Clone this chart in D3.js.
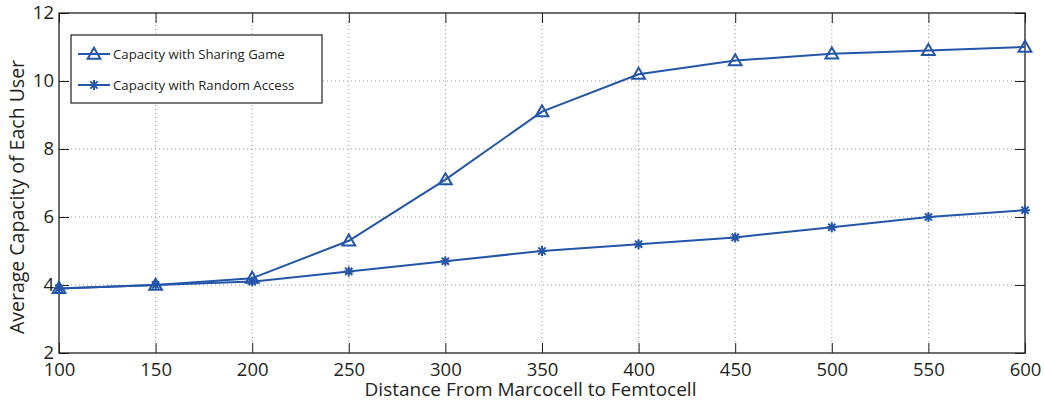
<!DOCTYPE html>
<html><head><meta charset="utf-8">
<script src="https://cdn.jsdelivr.net/npm/d3@7"></script>
<style>
body{margin:0;background:#fff;}
svg text{font-family:"Open Sans","Noto Sans",sans-serif;fill:#231f20;}
</style></head>
<body><svg id="c" width="1044" height="403"></svg>
<script>
const distances = [100,150,200,250,300,350,400,450,500,550,600];
const sharingGame = [3.9,4.0,4.2,5.3,7.1,9.1,10.2,10.6,10.8,10.9,11.0];
const randomAccess = [3.9,4.0,4.1,4.4,4.7,5.0,5.2,5.4,5.7,6.0,6.2];
const xTicks = [100,150,200,250,300,350,400,450,500,550,600];
const yTicks = [2,4,6,8,10,12];
const seriesNames = ["Capacity with Sharing Game","Capacity with Random Access"];

const svg = d3.select("#c");
const L=59,R=1025,T=13,B=353;
const x = d3.scaleLinear().domain([100,600]).range([L,R]);
const y = d3.scaleLinear().domain([2,12]).range([B,T]);
const blue="#2356a8", axc="#231f20";

const g = svg.append("g");
// grid
g.selectAll(".gx").data(xTicks.slice(1,-1)).join("line")
 .attr("x1",d=>x(d)).attr("x2",d=>x(d)).attr("y1",T).attr("y2",B)
 .attr("stroke","#9a9a9a").attr("stroke-width",1).attr("stroke-dasharray","1,3");
g.selectAll(".gy").data(yTicks.slice(1,-1)).join("line")
 .attr("x1",L).attr("x2",R).attr("y1",d=>y(d)).attr("y2",d=>y(d))
 .attr("stroke","#9a9a9a").attr("stroke-width",1).attr("stroke-dasharray","1,3");

// axes
const ax = (axis, tr) => g.append("g").attr("transform",tr).call(axis)
  .call(s=>s.select(".domain").remove())
  .call(s=>s.selectAll("line").attr("stroke",axc));
const xb = ax(d3.axisBottom(x).tickValues(xTicks).tickSize(-10).tickPadding(10), `translate(0,${B})`);
xb.selectAll("text").attr("font-size",18.5).attr("fill",axc).style("font-family",'"Open Sans",sans-serif');
const xt = ax(d3.axisTop(x).tickValues(xTicks).tickSize(-10).tickFormat(""), `translate(0,${T})`);
const yl = ax(d3.axisLeft(y).tickValues(yTicks).tickSize(-10).tickPadding(5), `translate(${L},0)`);
yl.selectAll("text").attr("font-size",18.5).attr("fill",axc);
const yr = ax(d3.axisRight(y).tickValues(yTicks).tickSize(-10).tickFormat(""), `translate(${R},0)`);
g.append("rect").attr("x",L).attr("y",T).attr("width",R-L).attr("height",B-T)
 .attr("fill","none").attr("stroke",axc).attr("stroke-width",1.3);

// lines
const line = d3.line().x((d,i)=>x(distances[i])).y(d=>y(d));
[sharingGame,randomAccess].forEach(s=>{
  g.append("path").datum(s).attr("d",line).attr("fill","none").attr("stroke",blue).attr("stroke-width",2);
});
const tri = d3.symbol().type(d3.symbolTriangle).size(70);
function triMark(sel,cx,cy){
  sel.append("path").attr("d",tri()).attr("transform",`translate(${cx},${cy+1})`)
   .attr("fill","none").attr("stroke",blue).attr("stroke-width",2);
}
function starMark(sel,cx,cy){
  const r=5, r2=3.6;
  const p=`M${-r},0L${r},0M0,${-r}L0,${r}M${-r2},${-r2}L${r2},${r2}M${-r2},${r2}L${r2},${-r2}`;
  sel.append("path").attr("d",p).attr("transform",`translate(${cx},${cy})`)
   .attr("fill","none").attr("stroke",blue).attr("stroke-width",2);
}
sharingGame.forEach((v,i)=>triMark(g,x(distances[i]),y(v)));
randomAccess.forEach((v,i)=>starMark(g,x(distances[i]),y(v)));

// legend
const lg = g.append("g");
lg.append("rect").attr("x",71).attr("y",35).attr("width",251).attr("height",68)
  .attr("fill","#fff").attr("stroke",axc).attr("stroke-width",1.2);
const ly=[54,85];
seriesNames.forEach((n,i)=>{
  lg.append("line").attr("x1",78).attr("x2",110).attr("y1",ly[i]).attr("y2",ly[i]).attr("stroke",blue).attr("stroke-width",2);
  if(i===0) triMark(lg,94,ly[i]); else starMark(lg,94,ly[i]);
  lg.append("text").attr("x",113).attr("y",ly[i]).attr("dy","0.35em").attr("font-size",13.2).text(n);
});

// titles
svg.append("text").attr("x",(368+693)/2).attr("y",396).attr("text-anchor","middle").attr("font-size",19)
  .text("Distance From Marcocell to Femtocell");
svg.append("text").attr("transform",`translate(24,197) rotate(-90)`).attr("text-anchor","middle").attr("font-size",19.5)
  .text("Average Capacity of Each User");
</script></body></html>
